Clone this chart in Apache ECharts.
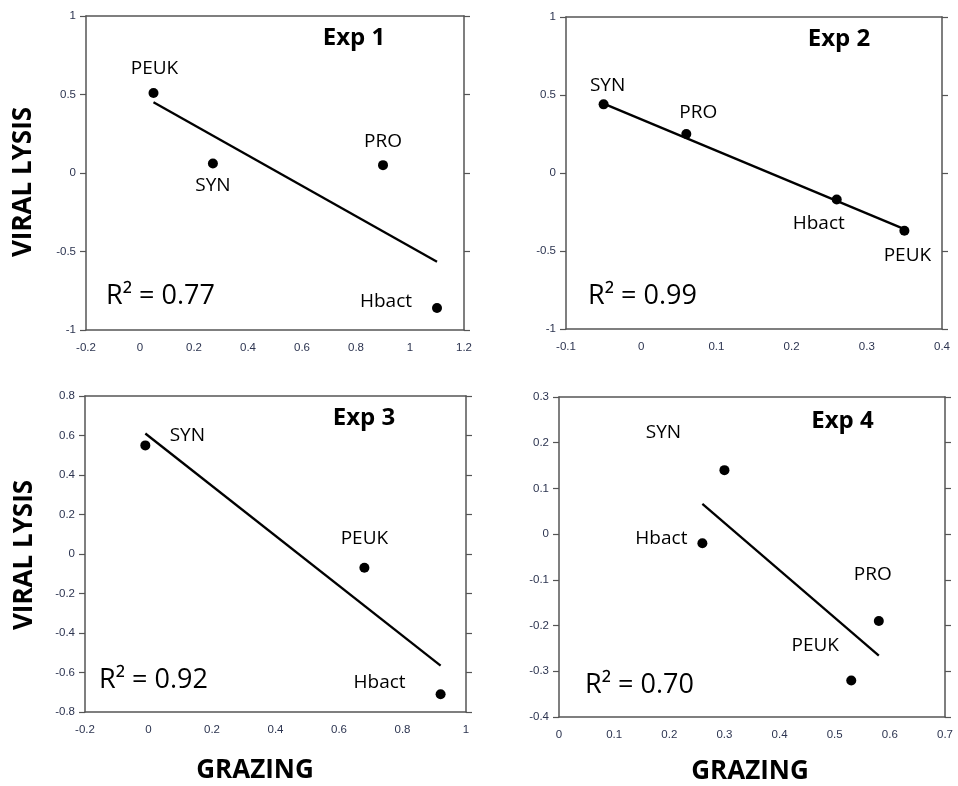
<!DOCTYPE html>
<html>
<head>
<meta charset="utf-8">
<title>Viral lysis vs grazing</title>
<script src="https://cdn.jsdelivr.net/npm/echarts@6/dist/echarts.min.js"></script>
<style>
  html, body { margin: 0; padding: 0; background: #ffffff; }
  #chart { width: 958px; height: 786px; }
</style>
</head>
<body>
<div id="chart"></div>
<script>
// Experiment 1
const exp1Groups  = ['PEUK', 'SYN', 'PRO', 'Hbact'];
const exp1Grazing = [0.05, 0.27, 0.90, 1.10];
const exp1Lysis   = [0.51, 0.06, 0.05, -0.86];
const exp1FitGrazing = [0.05, 1.10];
const exp1FitLysis   = [0.45, -0.565];
const exp1R2 = '0.77';
const exp1XTicks = [-0.2, 0, 0.2, 0.4, 0.6, 0.8, 1, 1.2];
const exp1YTicks = [-1, -0.5, 0, 0.5, 1];

// Experiment 2
const exp2Groups  = ['SYN', 'PRO', 'Hbact', 'PEUK'];
const exp2Grazing = [-0.05, 0.06, 0.26, 0.35];
const exp2Lysis   = [0.44, 0.25, -0.17, -0.37];
const exp2FitGrazing = [-0.05, 0.35];
const exp2FitLysis   = [0.445, -0.36];
const exp2R2 = '0.99';
const exp2XTicks = [-0.1, 0, 0.1, 0.2, 0.3, 0.4];
const exp2YTicks = [-1, -0.5, 0, 0.5, 1];

// Experiment 3
const exp3Groups  = ['SYN', 'PEUK', 'Hbact'];
const exp3Grazing = [-0.01, 0.68, 0.92];
const exp3Lysis   = [0.55, -0.07, -0.71];
const exp3FitGrazing = [-0.01, 0.92];
const exp3FitLysis   = [0.61, -0.565];
const exp3R2 = '0.92';
const exp3XTicks = [-0.2, 0, 0.2, 0.4, 0.6, 0.8, 1];
const exp3YTicks = [-0.8, -0.6, -0.4, -0.2, 0, 0.2, 0.4, 0.6, 0.8];

// Experiment 4
const exp4Groups  = ['SYN', 'Hbact', 'PRO', 'PEUK'];
const exp4Grazing = [0.30, 0.26, 0.58, 0.53];
const exp4Lysis   = [0.14, -0.02, -0.19, -0.32];
const exp4FitGrazing = [0.26, 0.58];
const exp4FitLysis   = [0.066, -0.266];
const exp4R2 = '0.70';
const exp4XTicks = [0, 0.1, 0.2, 0.3, 0.4, 0.5, 0.6, 0.7];
const exp4YTicks = [-0.4, -0.3, -0.2, -0.1, 0, 0.1, 0.2, 0.3];

const axisTitleX = 'GRAZING';
const axisTitleY = 'VIRAL LYSIS';

// Panel layout: plot rectangles, name offsets and annotation spots
const panels = [
  { name: 'Exp 1', groups: exp1Groups, x: exp1Grazing, y: exp1Lysis,
    fitX: exp1FitGrazing, fitY: exp1FitLysis, r2: exp1R2,
    xTicks: exp1XTicks, yTicks: exp1YTicks,
    grid: { left: 86, top: 16, width: 378, height: 314 },
    title: [354, 38.5], r2Pos: [106, 296],
    offsets: [[1, -24], [0, 22], [0, -24], [-51, -6]] },
  { name: 'Exp 2', groups: exp2Groups, x: exp2Grazing, y: exp2Lysis,
    fitX: exp2FitGrazing, fitY: exp2FitLysis, r2: exp2R2,
    xTicks: exp2XTicks, yTicks: exp2YTicks,
    grid: { left: 566, top: 17, width: 376, height: 312 },
    title: [839, 39], r2Pos: [588, 296],
    offsets: [[4, -19], [12, -21], [-18, 24], [3, 25]] },
  { name: 'Exp 3', groups: exp3Groups, x: exp3Grazing, y: exp3Lysis,
    fitX: exp3FitGrazing, fitY: exp3FitLysis, r2: exp3R2,
    xTicks: exp3XTicks, yTicks: exp3YTicks,
    grid: { left: 85, top: 396, width: 381, height: 316 },
    title: [364, 418], r2Pos: [99, 680],
    offsets: [[42, -10], [0, -29], [-61, -12]] },
  { name: 'Exp 4', groups: exp4Groups, x: exp4Grazing, y: exp4Lysis,
    fitX: exp4FitGrazing, fitY: exp4FitLysis, r2: exp4R2,
    xTicks: exp4XTicks, yTicks: exp4YTicks,
    grid: { left: 559, top: 397, width: 386, height: 320 },
    title: [842.5, 421], r2Pos: [585, 685],
    offsets: [[-61, -38], [-41, -5], [-6, -46], [-36, -35]] }
];

const FONT = '"Open Sans", "Noto Sans", sans-serif';
const TICK_FONT = '"Liberation Sans", Arial, sans-serif';
const frameColor = '#555555';
const tickTextColor = '#2c3450';

const grids = [], xAxes = [], yAxes = [], series = [], graphics = [];

function scaleOf(ticks) {
  return {
    min: ticks[0],
    max: ticks[ticks.length - 1],
    interval: +(ticks[1] - ticks[0]).toFixed(6)
  };
}

panels.forEach((p, i) => {
  grids.push(Object.assign({ containLabel: false }, p.grid));
  const xs = scaleOf(p.xTicks);
  const ys = scaleOf(p.yTicks);
  const line = { show: true, onZero: false, lineStyle: { color: frameColor, width: 1.5 } };

  // bottom axis with labels, top axis as frame
  xAxes.push({
    type: 'value', gridIndex: i, position: 'bottom',
    min: xs.min, max: xs.max, interval: xs.interval,
    axisLine: line, axisTick: { show: false }, splitLine: { show: false },
    axisLabel: { color: tickTextColor, fontFamily: TICK_FONT, fontSize: 11.5, margin: 12 }
  });
  xAxes.push({
    type: 'value', gridIndex: i, position: 'top',
    min: xs.min, max: xs.max, interval: xs.interval,
    axisLine: line, axisTick: { show: false }, splitLine: { show: false },
    axisLabel: { show: false }
  });
  // left axis with labels, right axis with outward ticks
  yAxes.push({
    type: 'value', gridIndex: i, position: 'left',
    min: ys.min, max: ys.max, interval: ys.interval,
    axisLine: line,
    axisTick: { show: true, length: 6, lineStyle: { color: frameColor, width: 1.2 } },
    splitLine: { show: false },
    axisLabel: { color: tickTextColor, fontFamily: TICK_FONT, fontSize: 11.5, margin: 10 }
  });
  yAxes.push({
    type: 'value', gridIndex: i, position: 'right',
    min: ys.min, max: ys.max, interval: ys.interval,
    axisLine: line,
    axisTick: { show: true, length: 6, lineStyle: { color: frameColor, width: 1.2 } },
    splitLine: { show: false },
    axisLabel: { show: false }
  });

  series.push({
    type: 'line', xAxisIndex: i * 2, yAxisIndex: i * 2,
    data: p.fitX.map((v, k) => [v, p.fitY[k]]),
    symbol: 'none', silent: true,
    lineStyle: { color: '#000000', width: 2.3, opacity: 1 },
    z: 2
  });

  series.push({
    type: 'scatter', xAxisIndex: i * 2, yAxisIndex: i * 2,
    symbol: 'circle', symbolSize: 10,
    itemStyle: { color: '#000000', opacity: 1 },
    data: p.groups.map((g, k) => ({
      name: g,
      value: [p.x[k], p.y[k]],
      label: { offset: p.offsets[k] }
    })),
    label: {
      show: true, position: 'inside',
      formatter: '{b}',
      color: '#000000', fontFamily: FONT, fontSize: 19, opacity: 1
    },
    z: 3
  });

  graphics.push({
    type: 'text', x: p.title[0], y: p.title[1],
    style: { text: p.name, fill: '#000', font: 'bold 24px ' + FONT,
             align: 'center', verticalAlign: 'middle' }
  });
  graphics.push({
    type: 'text', x: p.r2Pos[0], y: p.r2Pos[1],
    style: { text: 'R\u00B2 = ' + p.r2, fill: '#000', font: '27px ' + FONT,
             align: 'left', verticalAlign: 'middle' }
  });
});

// shared axis titles
[[23.5, 182], [25, 555]].forEach(pos => {
  graphics.push({
    type: 'text', x: pos[0], y: pos[1], rotation: Math.PI / 2,
    style: { text: axisTitleY, fill: '#000', font: 'bold 26px ' + FONT,
             align: 'center', verticalAlign: 'middle' }
  });
});
[[255, 771], [750, 772]].forEach(pos => {
  graphics.push({
    type: 'text', x: pos[0], y: pos[1],
    style: { text: axisTitleX, fill: '#000', font: 'bold 26px ' + FONT,
             align: 'center', verticalAlign: 'middle' }
  });
});

const chart = echarts.init(document.getElementById('chart'), null, { renderer: 'canvas' });
chart.setOption({
  backgroundColor: '#ffffff',
  animation: false,
  grid: grids,
  xAxis: xAxes,
  yAxis: yAxes,
  series: series,
  graphic: graphics
});
</script>
</body>
</html>
